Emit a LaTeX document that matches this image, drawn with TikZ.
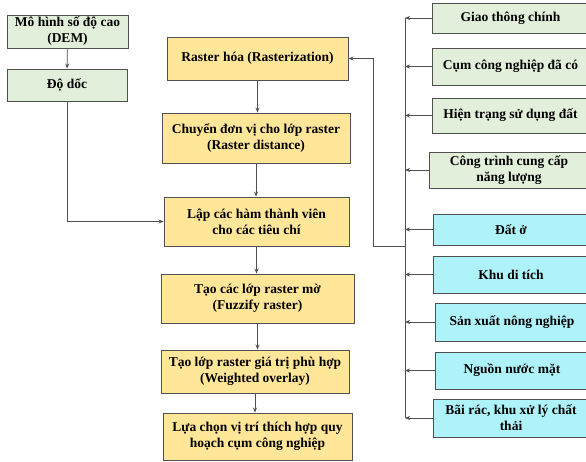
\documentclass[tikz,border=0pt]{standalone}
\usepackage{fontspec}
\setmainfont{Liberation Serif}
\usetikzlibrary{arrows.meta}
\definecolor{boxgreen}{HTML}{E2EFDA}
\definecolor{boxyellow}{HTML}{FFE699}
\definecolor{boxcyan}{HTML}{AFF3FA}
\definecolor{edgegray}{HTML}{505050}
\tikzset{
  box/.style={draw=edgegray, line width=0.9pt, anchor=center, align=center,
    inner sep=0pt, font=\fontsize{13.5}{16}\selectfont\bfseries},
  greenbox/.style={box, fill=boxgreen},
  yellowbox/.style={box, fill=boxyellow},
  cyanbox/.style={box, fill=boxcyan},
  arr/.style={draw=edgegray, line width=0.8pt, -{Stealth[length=5pt,width=4pt]}}
}
\begin{document}
\begin{tikzpicture}[x=1pt,y=-1pt]
            \clip (0,0) rectangle (586,462);
            \fill[white] (0,0) rectangle (586,462);
            % left column
            \node[greenbox, minimum width=121pt, minimum height=33pt] (dem) at (67.5,31.5) {Mô hình số độ cao\\(DEM)};
            \node[greenbox, minimum width=120pt, minimum height=32pt] (doc) at (67,85) {Độ dốc};
            % middle column
            \node[yellowbox, minimum width=181pt, minimum height=43pt] (ras) at (257.5,58.5) {Raster hóa (Rasterization)};
            \node[yellowbox, minimum width=188pt, minimum height=50pt] (dist) at (256,138) {Chuyển đơn vị cho lớp raster\\(Raster distance)};
            \node[yellowbox, minimum width=185pt, minimum height=49pt] (member) at (256.5,221.5) {Lập các hàm thành viên\\cho các tiêu chí};
            \node[yellowbox, minimum width=193pt, minimum height=49pt] (fuzzy) at (257.5,298.5) {Tạo các lớp raster mờ\\(Fuzzify raster)};
            \node[yellowbox, minimum width=188pt, minimum height=43pt] (overlay) at (255,371.5) {Tạo lớp raster giá trị phù hợp\\(Weighted overlay)};
            \node[yellowbox, minimum width=189pt, minimum height=47pt] (select) at (257.5,436.5) {Lựa chọn vị trí thích hợp quy\\hoạch cụm công nghiệp};
            % right column
            \node[greenbox, minimum width=157pt, minimum height=30pt] (giaothong) at (510.5,18) {Giao thông chính};
            \node[greenbox, minimum width=157pt, minimum height=37pt] (cumcn) at (510.5,66.5) {Cụm công nghiệp đã có};
            \node[greenbox, minimum width=157pt, minimum height=35pt] (hientrang) at (510.5,115.5) {Hiện trạng sử dụng đất};
            \node[greenbox, minimum width=160pt, minimum height=36pt] (nangluong) at (509,170) {Công trình cung cấp\\năng lượng};
            \node[cyanbox, minimum width=156pt, minimum height=31pt] (datoo) at (511,229.5) {Đất ở};
            \node[cyanbox, minimum width=156pt, minimum height=37pt] (ditich) at (511,274.5) {Khu di tích};
            \node[cyanbox, minimum width=154pt, minimum height=38pt] (nongnghiep) at (512,322) {Sản xuất nông nghiệp};
            \node[cyanbox, minimum width=154pt, minimum height=37pt] (nuocmat) at (512,370.5) {Nguồn nước mặt};
            \node[cyanbox, minimum width=156pt, minimum height=38pt] (bairac) at (511,418) {Bãi rác, khu xử lý chất\\thải};
            % bus
            \coordinate (bustop) at (405,18);
            \coordinate (busbot) at (405,418);
            \coordinate (busjoin) at (405,246);
            \draw[edgegray, line width=0.8pt] (bustop) -- (busbot);
            \foreach \n in {giaothong,cumcn,hientrang,nangluong,datoo,ditich,nongnghiep,nuocmat,bairac}
              \draw[arr] (\n.west) -- (\n.west -| bustop);
            \draw[arr] (busjoin) -- ++(-32,0) |- (ras.east);
            % arrows
            \draw[arr] (dem) -- (doc);
            \draw[arr] (doc.south) |- (member.west);
            \draw[arr] (ras.south) -- (ras.south |- dist.north);
            \draw[arr] (dist.south) -- (dist.south |- member.north);
            \draw[arr] (member.south) -- (member.south |- fuzzy.north);
            \draw[arr] (fuzzy.south) -- (fuzzy.south |- overlay.north);
            \draw[arr] (overlay.south) -- (overlay.south |- select.north);
        \end{tikzpicture}
\end{document}
